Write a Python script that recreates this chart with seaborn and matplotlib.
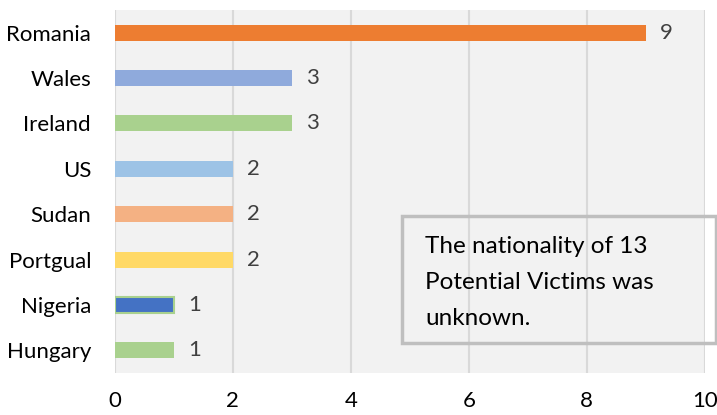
import matplotlib
matplotlib.use("Agg")
import matplotlib.pyplot as plt
import seaborn as sns
import pandas as pd
from matplotlib.patches import Rectangle

# Data
countries = ["Romania", "Wales", "Ireland", "US", "Sudan", "Portgual", "Nigeria", "Hungary"]
victims = [9, 3, 3, 2, 2, 2, 1, 1]
bar_colors = ["#ED7D31", "#8FAADC", "#A9D18E", "#9DC3E6", "#F4B183", "#FFD966", "#4472C4", "#A9D18E"]
x_ticks = [0, 2, 4, 6, 8, 10]
note = "The nationality of 13\nPotential Victims was\nunknown."

sns.set_theme(style="white")
plt.rcParams["font.family"] = ["Lato", "DejaVu Sans"]

df = pd.DataFrame({"country": countries, "victims": victims})

fig = plt.figure(figsize=(7.17, 4.15), dpi=100)
ax = fig.add_axes([0.160, 0.101, 0.823, 0.875])
ax.set_facecolor("#F2F2F2")

sns.barplot(data=df, x="victims", y="country", hue="country", palette=bar_colors,
            order=countries, hue_order=countries, width=0.35, legend=False,
            saturation=1, ax=ax, zorder=3)

# Nigeria bar has a green outline in the original
for p, c in zip(ax.patches, countries):
    p.set_linewidth(0)
    if c == "Nigeria":
        p.set_edgecolor("#A9D18E")
        p.set_linewidth(1.5)

for i, v in enumerate(victims):
    ax.text(v + 0.24, i, str(v), va="center", ha="left", fontsize=16, color="#404040", zorder=4)

ax.set_xlim(0, 10)
ax.set_ylim(len(countries) - 0.5, -0.5)
ax.set_xticks(x_ticks)
ax.set_xticklabels([str(t) for t in x_ticks])
ax.xaxis.grid(True, color="#D9D9D9", linewidth=1.5, zorder=0)
ax.set_axisbelow(True)
ax.set_xlabel("")
ax.set_ylabel("")
for s in ax.spines.values():
    s.set_visible(False)
ax.tick_params(axis="both", length=0, labelsize=16, colors="black")
ax.tick_params(axis="x", pad=13)
ax.tick_params(axis="y", pad=17)

# Note box
fig.patches.append(Rectangle((402 / 717, 1 - 343 / 415), 314 / 717, 127 / 415,
                             transform=fig.transFigure, facecolor="none",
                             edgecolor="#BFBFBF", linewidth=2.5, zorder=5))
fig.text(425 / 717, 1 - 236 / 415, note, ha="left", va="top", fontsize=17.5,
         color="black", linespacing=1.88)

fig.savefig("out.png", dpi=100)
